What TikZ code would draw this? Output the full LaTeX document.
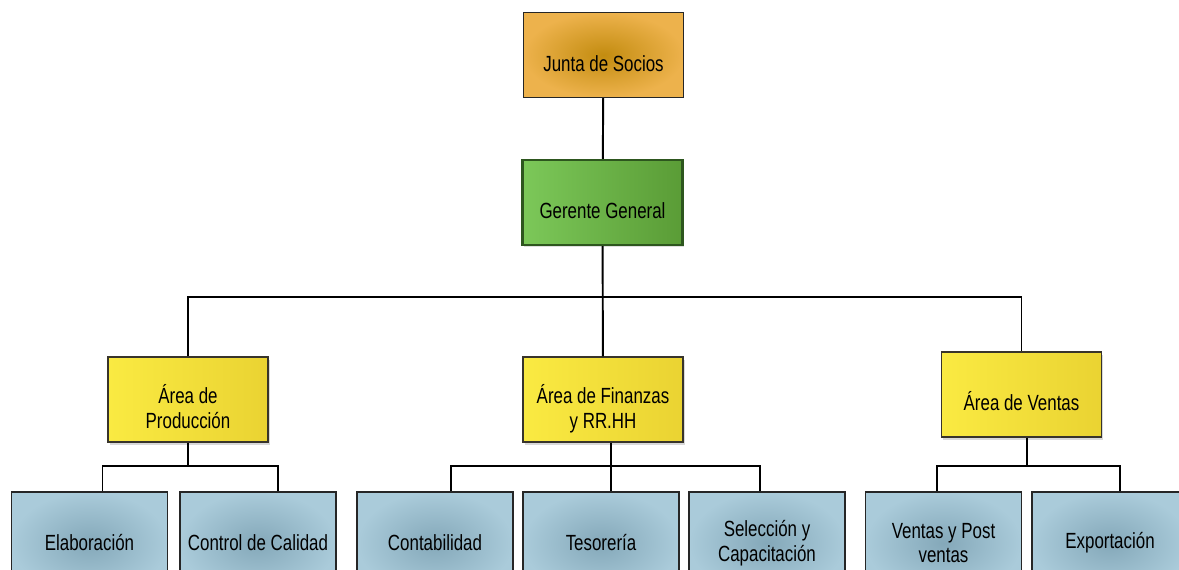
\documentclass[tikz,border=0pt]{standalone}
\usepackage{fontspec}
\setmainfont[FakeStretch=0.77]{Liberation Sans}
\usetikzlibrary{shadows}

\definecolor{jtaout}{HTML}{EDB24C}
\definecolor{jtain}{HTML}{C38C10}
\definecolor{gerleft}{HTML}{7CC859}
\definecolor{gerright}{HTML}{5A9C36}
\definecolor{gerline}{HTML}{2D561E}
\definecolor{arealeft}{HTML}{FAEA42}
\definecolor{arearight}{HTML}{EAD332}
\definecolor{subout}{HTML}{AACBDA}
\definecolor{subin}{HTML}{84A8B9}

\begin{document}
\begin{tikzpicture}[x=0.02cm,y=-0.02cm,
  box/.style={rectangle,draw=black!85,line width=0.8pt,minimum width=3.2cm,minimum height=1.7cm,align=center,inner sep=2pt,font=\fontsize{12.5}{14}\selectfont},
  one/.style={text height=18.6pt,text depth=0pt},
  two/.style={text height=32.9pt,text depth=0pt},
  topbox/.style={box,inner color=jtain,outer color=jtaout},
  gerbox/.style={box,draw=gerline,line width=1.3pt,left color=gerleft,right color=gerright,drop shadow={opacity=0.25,shadow xshift=1pt,shadow yshift=-1pt}},
  areabox/.style={box,draw=black!80!olive,left color=arealeft,right color=arearight,drop shadow={opacity=0.3,shadow xshift=1pt,shadow yshift=-1.5pt}},
  subbox/.style={box,minimum width=3.12cm,minimum height=2.04cm,inner color=subin,outer color=subout},
  link/.style={draw=black,line width=1.1pt}]
\clip (0,0) rectangle (1179,570);

\node[topbox,one] (junta) at (603.5,55) {Junta de Socios};
\node[gerbox,one] (gerente) at (602.5,202.5) {Gerente General};

\node[areabox,two] (prod) at (188,399.5) {Área de\\Producción};
\node[areabox,two] (fin) at (603,399.5) {Área de Finanzas\\y RR.HH};
\node[areabox,one] (ven) at (1021.5,394.5) {Área de Ventas};

\foreach \nm/\x/\txt in %
{elab/89.5/Elaboración,calidad/258/Control de Calidad,conta/435/Contabilidad,%
 teso/601/Tesorería,selec/767/{Selección y\\Capacitación},%
 postv/943.5/{Ventas y Post\\ventas},expo/1110/Exportación} {
   \node[subbox] (\nm) at (\x,543) {\txt};
}

% lineas
\coordinate (bus) at (603,297);
\coordinate (pbus) at (188,466);
\coordinate (fbus) at (611,466);
\coordinate (vbus) at (1027,466);
\draw[link] (junta) -- (gerente);
\draw[link] (gerente) -- (fin);
\draw[link] (prod.north) |- (bus) -| (ven.north);
\draw[link] (prod) -- (pbus);
\draw[link] ([xshift=0.26cm]elab.north) |- (pbus) -| ([xshift=0.4cm]calidad.north);
\draw[link] (fin.south -| fbus) -- (fbus) -- (teso.north -| fbus);
\draw[link] ([xshift=0.32cm]conta.north) |- (fbus) -| ([xshift=-0.14cm]selec.north);
\draw[link] (ven.south -| vbus) -- (vbus);
\draw[link] ([xshift=-0.13cm]postv.north) |- (vbus) -| ([xshift=0.2cm]expo.north);
\end{tikzpicture}
\end{document}
